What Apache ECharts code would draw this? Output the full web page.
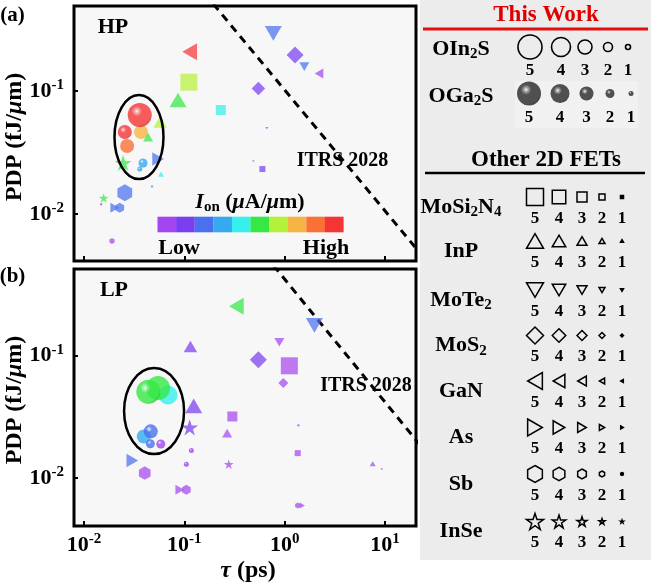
<!DOCTYPE html>
<html><head><meta charset="utf-8">
<script src="https://cdn.jsdelivr.net/npm/echarts/dist/echarts.min.js"></script>
<style>html,body{margin:0;padding:0;background:#fff}#c{width:651px;height:586px}</style>
</head><body><div id="c"></div>
<script>
// ---------------- DATA ----------------
const materials = ['MoSi2N4','InP','MoTe2','MoS2','GaN','As','Sb','InSe'];
const sizeLevels = [5,4,3,2,1];
// I_on colour scale, Low -> High
const ionColors = ['#a346ef','#7a3ef0','#4a70ee','#35aaf0','#35f0ec','#35e845','#b5f03a','#f5b545','#fa7035','#f53535'];
const tauRange = [0.00794, 20.4];
const hpPdpRange = [0.00415, 0.491];
const lpPdpRange = [0.00406, 0.512];
// [material, tau (ps), PDP (fJ/um), size level, Ion index]
const hpOthers = [
  ['GaN',0.113,0.209,5,9],['MoSi2N4',0.111,0.118,5,6],['InP',0.0865,0.0845,5,5],
  ['MoSi2N4',0.231,0.0701,3,4],['InP',0.0573,0.056,4,6],['InP',0.0435,0.0422,3,5],
  ['InSe',0.0245,0.026,5,5],['As',0.0547,0.028,4,2],['InP',0.0586,0.0211,2,4],
  ['InP',0.0476,0.0169,1,2],['Sb',0.0255,0.0149,5,2],['InSe',0.0157,0.0135,3,5],
  ['MoS2',0.0148,0.0120,1,0],['As',0.0202,0.01125,3,2],['Sb',0.0227,0.01125,3,2],
  ['Sb',0.0190,0.00603,2,0],['MoTe2',0.771,0.294,5,2],['MoS2',1.27,0.196,5,1],
  ['MoTe2',1.57,0.158,3,2],['GaN',2.20,0.139,3,0],['MoS2',0.547,0.105,4,1],
  ['MoTe2',0.664,0.0498,1,2],['InSe',0.488,0.0271,1,0],['MoSi2N4',0.600,0.0232,2,1]
];
// This work, HP: [tau, PDP, size level, Ion index]
const hpOIn2S = [[0.037,0.0464,3,7],[0.0269,0.0357,3,8]];
const hpOGa2S = [[0.0359,0.0638,5,9],[0.0255,0.0464,3,9],[0.0387,0.026,2,3],[0.0359,0.0232,1,3]];
const lpOthers = [
  ['GaN',0.330,0.254,5,5],['InP',0.115,0.119,4,1],['InP',0.124,0.0390,5,1],
  ['InSe',0.113,0.026,5,1],['As',0.0303,0.01396,4,2],['Sb',0.0403,0.0110,4,0],
  ['As',0.090,0.00802,3,0],['Sb',0.1047,0.00802,3,0],['MoSi2N4',0.301,0.0319,3,0],
  ['InP',0.267,0.0233,3,0],['InSe',0.277,0.0130,3,0],['MoTe2',1.98,0.177,5,2],
  ['MoTe2',0.885,0.129,3,0],['MoS2',0.547,0.0928,5,1],['MoSi2N4',1.114,0.0828,5,0],
  ['MoS2',0.970,0.0598,3,0],['MoS2',1.37,0.027,1,0],['MoSi2N4',1.35,0.016,2,0],
  ['InP',7.55,0.0131,2,0],['InSe',9.29,0.0119,1,0],['Sb',1.35,0.00598,2,0],['As',1.50,0.00598,2,0]
];
const lpOIn2S = [[0.0687,0.0477,4,4],[0.0547,0.0544,5,5],[0.0394,0.0219,3,3]];
const lpOGa2S = [[0.0437,0.0508,5,5],[0.0462,0.0241,3,2],[0.0458,0.0191,2,2],[0.0582,0.019,2,0],[0.1175,0.0168,1,0],[0.1047,0.0130,1,0]];
// ITRS 2028 limit lines [tau, PDP]
const itrsHP = [[0.158,0.625],[31.6,0.00343]];
const itrsLP = [[0.631,0.671],[31.6,0.0132]];
// ellipse centres (data coords)
const hpEllipse = [0.0353,0.0422];
const lpEllipse = [0.0499,0.0353];

// ---------------- STYLE ----------------
const SERIF = '"Liberation Serif","Times New Roman",serif';
const SHAPES = {
  MoSi2N4:[[0,0],[10,0],[10,10],[0,10]],
  InP:[[5,0],[10,8.66],[0,8.66]],
  MoTe2:[[0,0],[10,0],[5,8.66]],
  MoS2:[[5,0],[10,5],[5,10],[0,5]],
  GaN:[[8.66,0],[8.66,10],[0,5]],
  As:[[0,0],[8.66,5],[0,10]],
  Sb:[[5,0],[9.33,2.5],[9.33,7.5],[5,10],[0.67,7.5],[0.67,2.5]],
  InSe:[[5,0],[6.12,3.46],[9.76,3.46],[6.81,5.59],[7.94,9.05],[5,6.9],[2.06,9.05],[3.19,5.59],[0.24,3.46],[3.88,3.46]]
};
function pathOf(m){return 'path://M'+SHAPES[m].map(p=>p[0]+','+p[1]).join('L')+'Z';}
// polygon points scaled to a box of size s centred at (cx,cy), keeping aspect
function polyPts(m,cx,cy,s){
  const pts=SHAPES[m];
  const xs=pts.map(p=>p[0]), ys=pts.map(p=>p[1]);
  const x0=Math.min(...xs),x1=Math.max(...xs),y0=Math.min(...ys),y1=Math.max(...ys);
  const k=s/Math.max(x1-x0,y1-y0);
  const mx=(x0+x1)/2,my=(y0+y1)/2;
  return pts.map(p=>[cx+(p[0]-mx)*k,cy+(p[1]-my)*k]);
}
const fetSize = {1:3,2:6,3:10,4:13.5,5:17};
const sphereSize = {1:5,2:9,3:14,4:19,5:24};

function hex2rgb(h){h=h.replace('#','');return [0,2,4].map(i=>parseInt(h.substr(i,2),16));}
function mix(a,b,t){const A=hex2rgb(a),B=hex2rgb(b);return 'rgb('+A.map((v,i)=>Math.round(v*(1-t)+B[i]*t)).join(',')+')';}
function glossy(hex){
  return {type:'radial',x:0.38,y:0.34,r:0.72,colorStops:[
    {offset:0,color:'#ffffff'},{offset:0.1,color:mix(hex,'#ffffff',0.55)},
    {offset:0.3,color:hex},{offset:0.8,color:hex},{offset:1,color:mix(hex,'#000000',0.2)}]};
}
function fetItem(p){
  return {value:[p[1],p[2]],symbol:pathOf(p[0]),symbolSize:fetSize[p[3]],
    itemStyle:{color:ionColors[p[4]],opacity:0.72}};
}
function inItem(p){return {value:[p[0],p[1]],symbol:'circle',symbolSize:sphereSize[p[2]],itemStyle:{color:ionColors[p[3]]}};}
function gaItem(p){return {value:[p[0],p[1]],symbol:'circle',symbolSize:sphereSize[p[2]],itemStyle:{color:glossy(ionColors[p[3]])}};}

const powRich = {
  b:{fontSize:22,fontWeight:'bold',fontFamily:SERIF,color:'#000',lineHeight:26},
  s:{fontSize:15,fontWeight:'bold',fontFamily:SERIF,color:'#000',lineHeight:12,verticalAlign:'top'}
};
function powLabel(v){
  const e=Math.log10(v), r=Math.round(e);
  if(Math.abs(e-r)>1e-6) return '';
  return '{b|10}{s|'+r+'}';
}
function mkX(gi,show){
  return {type:'log',gridIndex:gi,min:tauRange[0],max:tauRange[1],
    axisLine:{show:false},splitLine:{show:false},minorTick:{show:false},
    axisTick:{show:true,inside:true,length:5,lineStyle:{color:'#000',width:2}},
    axisLabel:{show:show,margin:6,formatter:powLabel,rich:powRich,showMinLabel:false,showMaxLabel:false}};
}
function mkY(gi,range){
  return {type:'log',gridIndex:gi,min:range[0],max:range[1],
    axisLine:{show:false},splitLine:{show:false},minorTick:{show:false},
    axisTick:{show:true,inside:true,length:4,lineStyle:{color:'#000',width:2}},
    axisLabel:{show:true,margin:10,formatter:powLabel,rich:powRich,showMinLabel:false,showMaxLabel:false}};
}
function scat(gi,data,z){
  return {type:'scatter',xAxisIndex:gi,yAxisIndex:gi,symbolKeepAspect:true,data:data,z:z,silent:true};
}
function itrs(gi,data){
  return {type:'line',xAxisIndex:gi,yAxisIndex:gi,data:data,showSymbol:false,symbol:'none',clip:true,z:1,silent:true,
    lineStyle:{color:'#000',width:3,type:[8,6]}};
}

const chart = echarts.init(document.getElementById('c'),null,{renderer:'canvas'});
chart.setOption({
  animation:false,
  backgroundColor:'#ffffff',
  grid:[
    {left:74,top:6,width:342,height:255,show:true,borderColor:'#000',borderWidth:3,backgroundColor:'#f7f7f7'},
    {left:74,top:269,width:342,height:257,show:true,borderColor:'#000',borderWidth:3,backgroundColor:'#f7f7f7'}
  ],
  xAxis:[mkX(0,false),mkX(1,true)],
  yAxis:[mkY(0,hpPdpRange),mkY(1,lpPdpRange)],
  series:[
    itrs(0,itrsHP), itrs(1,itrsLP),
    scat(0,hpOIn2S.map(inItem),2), scat(0,hpOthers.map(fetItem),3), scat(0,hpOGa2S.map(gaItem),4),
    scat(1,lpOIn2S.map(inItem),2), scat(1,lpOthers.map(fetItem),3), scat(1,lpOGa2S.map(gaItem),4)
  ]
});

// ---------------- ANNOTATIONS & LEGEND ----------------
const G = [];
function T(x,y,text,size,opts){
  opts=opts||{};
  const st={text:text,x:0,y:0,fontSize:size,fontWeight:'bold',fontFamily:SERIF,fill:opts.fill||'#000',align:'center',verticalAlign:'middle'};
  if(opts.rich) st.rich=opts.rich;
  G.push({type:'text',x:x,y:y,rotation:opts.rot||0,z:20,style:st});
}
function rich(size,sub){
  return {
    a:{fontSize:size,fontWeight:'bold',fontFamily:SERIF,fill:'#000',lineHeight:size+4},
    i:{fontSize:size,fontWeight:'bold',fontStyle:'italic',fontFamily:SERIF,fill:'#000',lineHeight:size+4},
    s:{fontSize:sub,fontWeight:'bold',fontFamily:SERIF,fill:'#000',lineHeight:12,verticalAlign:'bottom'}
  };
}
// legend background
G.push({type:'rect',z:5,shape:{x:420,y:0,width:231,height:560},style:{fill:'#ececec'}});
G.push({type:'rect',z:6,shape:{x:515,y:81,width:123,height:47},style:{fill:'#f1f1f1'}});

// plot texts
T(12.5,15.5,'(a)',21); T(12.5,277,'(b)',21);
T(113,27.5,'HP',22); T(114,290.5,'LP',22);
T(342.5,160.5,'ITRS 2028',20); T(366,385.5,'ITRS 2028',20);
T(15,137,'{a|PDP (fJ/}{i|μ}{a|m)}',24,{rot:Math.PI/2,rich:rich(24,16)});
T(15,400,'{a|PDP (fJ/}{i|μ}{a|m)}',24,{rot:Math.PI/2,rich:rich(24,16)});
T(248,571,'{i|τ}{a| (ps)}',24,{rich:rich(24,16)});
// colour bar
ionColors.forEach((c,i)=>G.push({type:'rect',z:20,shape:{x:157.5+i*18.6,y:216.7,width:18.7,height:15.6},style:{fill:c}}));
T(250,202,'{i|I}{s|on}{a| (}{i|μ}{a|A/}{i|μ}{a|m)}',22,{rich:rich(22,15)});
T(179,248,'Low',22); T(326,248,'High',22);

// This Work legend
T(546,15,'This Work',23,{fill:'#e00000'});
G.push({type:'line',z:20,shape:{x1:423,y1:29,x2:648,y2:29},style:{stroke:'#e01010',lineWidth:3}});
T(461,49,'{a|OIn}{s|2}{a|S}',22,{rich:rich(22,15)});
T(461,96,'{a|OGa}{s|2}{a|S}',22,{rich:rich(22,15)});
const circX=[530,561,585,608,628], sphX=[529,560,586.5,610,631];
sizeLevels.forEach((lv,k)=>{
  const r=sphereSize[lv]/2;
  G.push({type:'circle',z:20,shape:{cx:circX[k],cy:47,r:r},style:{fill:'none',stroke:'#000',lineWidth:1.6}});
  T(circX[k],71,String(lv),17);
  G.push({type:'circle',z:20,shape:{cx:sphX[k],cy:93.5,r:r},style:{fill:glossy('#505050')}});
  T(sphX[k],118,String(lv),17);
});
// Other 2D FETs legend
T(546,160,'Other 2D FETs',23);
G.push({type:'line',z:20,shape:{x1:425,y1:173,x2:645,y2:173},style:{stroke:'#000',lineWidth:2.5}});
const rowY=[197,241,290,335.5,381,427.5,474,521.5];
const rowLabels=['{a|MoSi}{s|2}{a|N}{s|4}','{a|InP}','{a|MoTe}{s|2}','{a|MoS}{s|2}','{a|GaN}','{a|As}','{a|Sb}','{a|InSe}'];
const fetX=[535,559,582,602,622];
materials.forEach((m,i)=>{
  T(461,rowY[i]+10,rowLabels[i],22,{rich:rich(22,15)});
  sizeLevels.forEach((lv,k)=>{
    const s=fetSize[lv];
    G.push({type:'polygon',z:20,shape:{points:polyPts(m,fetX[k],rowY[i],s)},
      style:{fill:lv===1?'#000':'none',stroke:'#000',lineWidth:1.5}});
    T(fetX[k],rowY[i]+21.5,String(lv),17);
  });
});
// ellipses around this-work points
[[0,hpEllipse,24.5,42],[1,lpEllipse,30,43]].forEach(e=>{
  const p=chart.convertToPixel({gridIndex:e[0]},e[1]);
  G.push({type:'ellipse',z:20,shape:{cx:p[0],cy:p[1],rx:e[2],ry:e[3]},style:{fill:'none',stroke:'#000',lineWidth:2.5}});
});
chart.setOption({graphic:{elements:G}});
</script></body></html>
